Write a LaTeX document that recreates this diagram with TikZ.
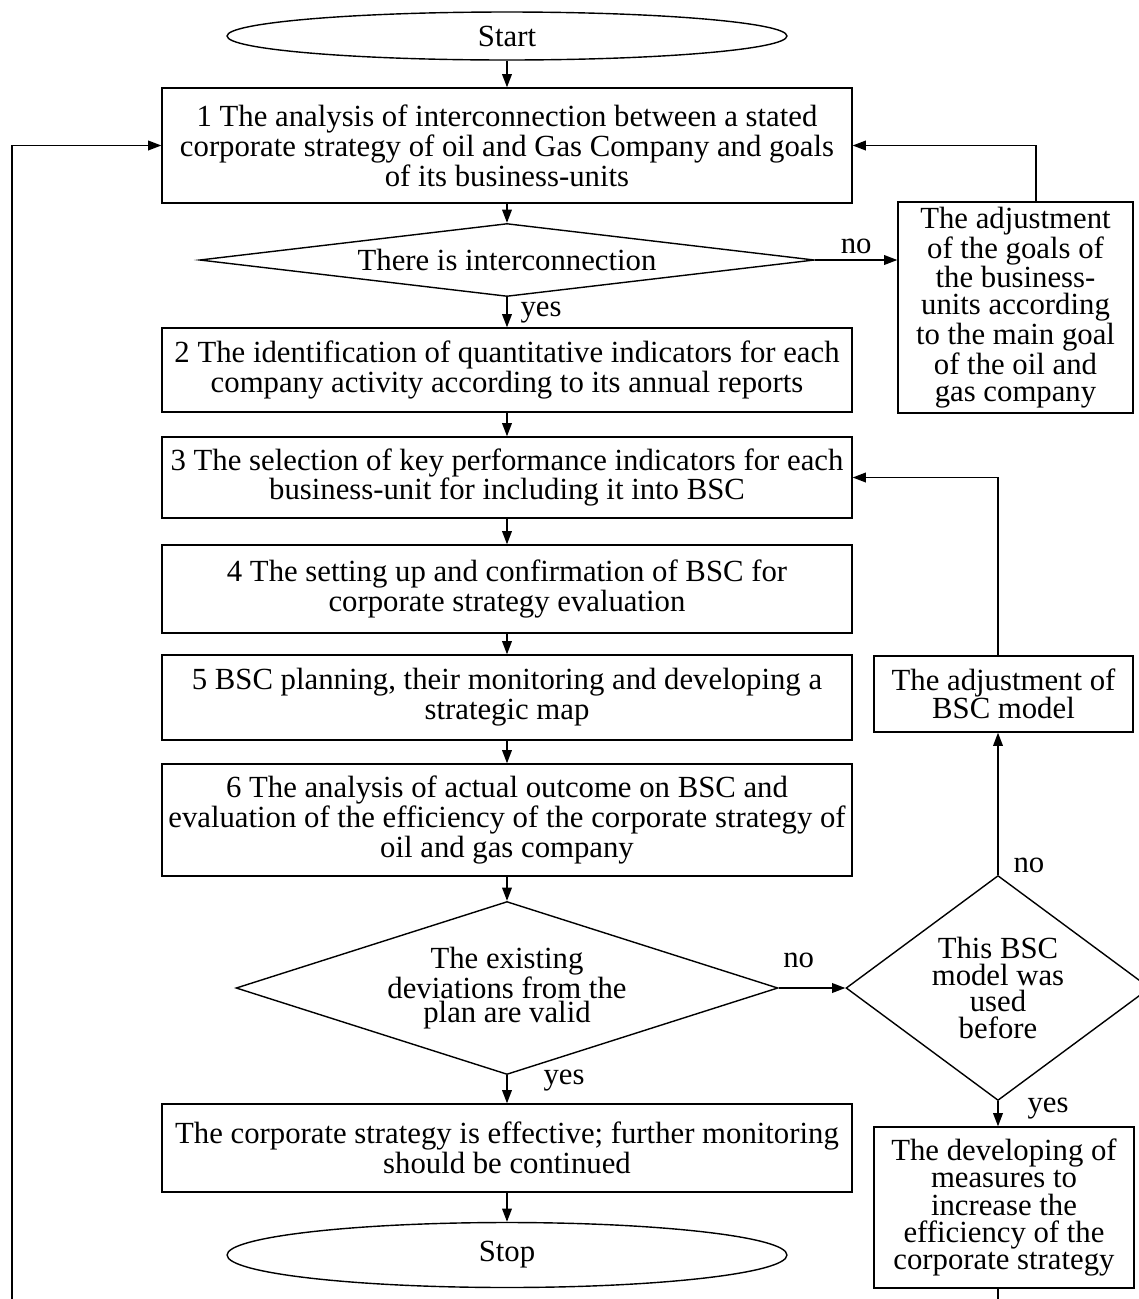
\documentclass[tikz,border=0pt]{standalone}
\usepackage{fontspec}
\setmainfont{Liberation Serif}
\usepackage{tikz}
\usetikzlibrary{arrows.meta}
\usetikzlibrary{shapes.geometric}
\usetikzlibrary{positioning}

\begin{document}
\begin{tikzpicture}[x=0.02cm, y=-0.02cm, line width=0.8pt, >={Triangle[length=7.5pt,width=5.5pt]}]
 \tikzstyle{every node}=[font=\fontsize{17.5}{17}\selectfont, text=black]
 \tikzstyle{block}=[draw, rectangle, minimum width=13.8cm, align=center, inner sep=0pt]
 \tikzstyle{side}=[draw, rectangle, align=center, inner sep=0pt, font=\fontsize{17.5}{15.4}\selectfont]
 \tikzstyle{decision}=[draw, diamond, align=center, inner sep=0pt]
 \tikzstyle{terminal}=[draw, ellipse, minimum width=11.2cm, inner sep=0pt]
 \useasboundingbox (0,0) rectangle (1139,1299);

 % main column
 \node[terminal, minimum height=0.96cm] (start) at (507,36) {Start};
 \node[block, minimum height=2.3cm] (b1) at (507,145.5) {1 The analysis of interconnection between a stated\\corporate strategy of oil and Gas Company and goals\\of its business-units};
 \node[decision, minimum width=12.3cm, minimum height=1.46cm, aspect=8.4] (d1) at (507,260) {There is interconnection};
 \node[block, minimum height=1.68cm] (b2) at (507,370) {2 The identification of quantitative indicators for each\\company activity according to its annual reports};
 \node[block, minimum height=1.62cm] (b3) at (507,477.5) {3 The selection of key performance indicators for each\\business-unit for including it into BSC};
 \node[block, minimum height=1.76cm] (b4) at (507,589) {4 The setting up and confirmation of BSC for\\corporate strategy evaluation};
 \node[block, minimum height=1.7cm] (b5) at (507,697.5) {5 BSC planning, their monitoring and developing a\\strategic map};
 \node[block, minimum height=2.24cm] (b6) at (507,820) {6 The analysis of actual outcome on BSC and\\evaluation of the efficiency of the corporate strategy of\\oil and gas company};
 \node[decision, minimum width=10.84cm, minimum height=3.46cm, aspect=3.13, font=\fontsize{17.5}{13.8}\selectfont] (d2) at (507,988) {The existing\\deviations from the\\plan are valid};
 \node[block, minimum height=1.76cm] (b7) at (507,1148) {The corporate strategy is effective; further monitoring\\should be continued};
 \node[terminal, minimum height=1.3cm] (stop) at (507,1255) {Stop};

 % right column
 \node[side, minimum width=4.7cm, minimum height=4.22cm] (bA) at (1015.5,307.5) {The adjustment\\of the goals of\\the business-\\units according\\to the main goal\\of the oil and\\gas company};
 \node[side, minimum width=5.18cm, minimum height=1.52cm, font=\fontsize{17.5}{16}\selectfont] (bB) at (1003.5,694) {The adjustment of\\BSC model};
 \node[decision, minimum width=6.08cm, minimum height=4.5cm, aspect=1.35, font=\fontsize{17.5}{15.1}\selectfont] (d3) at (998,988) {This BSC\\model was\\used\\before};
 \node[side, minimum width=5.2cm, minimum height=3.22cm] (bC) at (1004,1207.5) {The developing of\\measures to\\increase the\\efficiency of the\\corporate strategy};
 \coordinate (lb) at (998,1330);
 \coordinate (la) at (12,1330);

 \draw[->] (start) -- (b1);
 \draw[->] (b1) -- (d1);
 \draw[->] (d1) -- node[pos=0.5, anchor=west, xshift=0.14cm] {yes} (b2);
 \draw[->] (b2) -- (b3);
 \draw[->] (b3) -- (b4);
 \draw[->] (b4) -- (b5);
 \draw[->] (b5) -- (b6);
 \draw[->] (b6) -- (d2);
 \draw[->] (d2) -- node[pos=0.2, anchor=west, xshift=0.6cm] {yes} (b7);
 \draw[->] (b7) -- (stop);

 \draw[->] (d1.east) -- node[above] {no} (d1.east -| bA.west);
 \draw[->] ([xshift=0.41cm]bA.north) |- (b1.east);
 \draw[->] (d2.east) -- node[pos=0.3, above, yshift=0.28cm] {no} (d3.west);
 \draw[->] (d3.north) -- node[pos=0, anchor=south west, xshift=0.18cm, yshift=-0.1cm] {no} (d3.north |- bB.south);
 \draw[->] (bB.north -| d3.north) |- (b3.east);
 \draw[->] (d3.south) -- node[pos=0.3, anchor=west, xshift=0.46cm] {yes} (d3.south |- bC.north);
 \draw[->] (bC.south -| lb) -- (lb) -- (la) |- (b1.west);
\end{tikzpicture}
\end{document}
